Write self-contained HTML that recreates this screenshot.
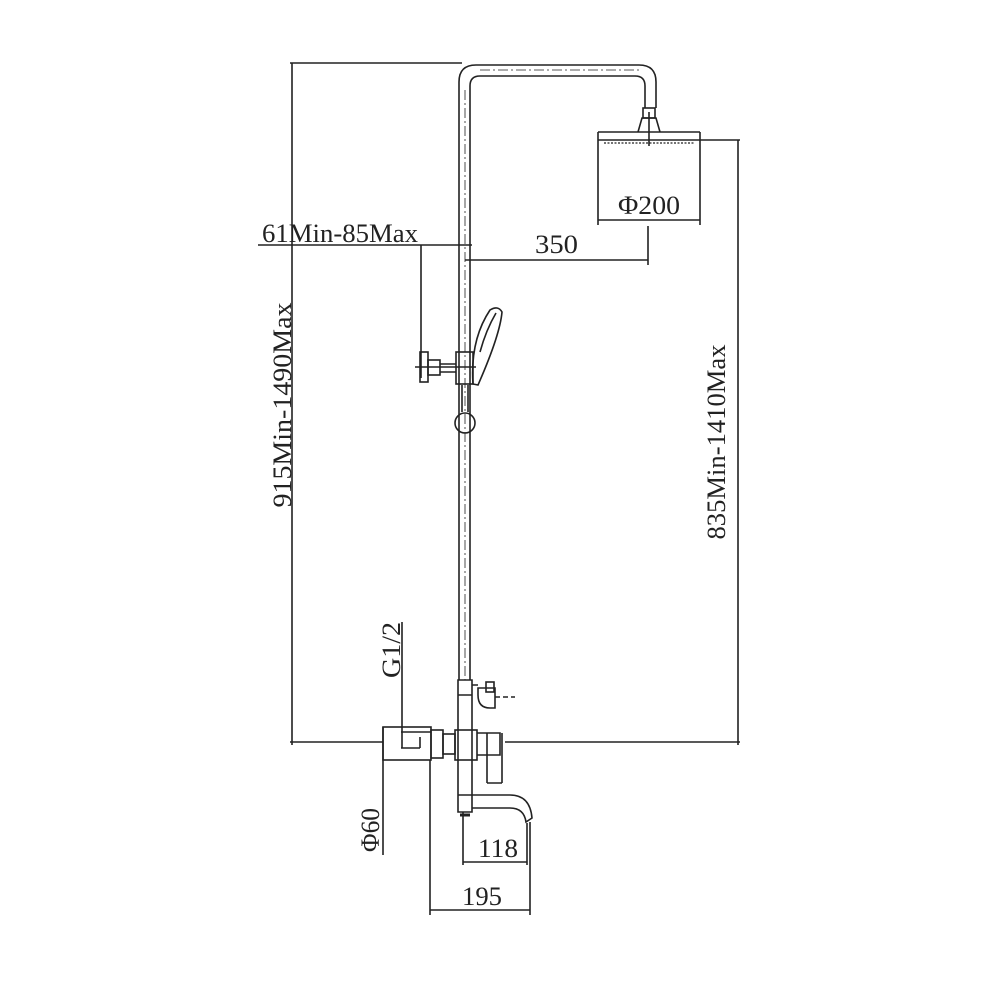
<!DOCTYPE html>
<html><head><style>body{margin:0;background:#fff}svg{display:block}</style></head><body>
<svg width="1000" height="1000" viewBox="0 0 1000 1000" xmlns="http://www.w3.org/2000/svg">
<g fill="none" stroke="#222" stroke-width="1.6">
<path d="M459 680 V82 Q459 65 476 65 H639 Q656 65 656 82 V108"/>
<path d="M470 680 V86 Q470 76 480 76 H635 Q645 76 645 86 V108"/>
<path d="M465 90 V680 M480 70 H640" stroke-width="0.8" stroke-dasharray="10 3 2 3"/>
<rect x="643" y="108" width="12" height="10"/>
<path d="M638 132 L642 118 H656 L660 132"/>
<path d="M598 132 H700 M598 132 V225 M700 132 V225 M598 140 H700"/>
<path d="M604 143 H695" stroke-dasharray="2 1.5" stroke-width="1.2"/>
<path d="M649 112 V146"/>
<path d="M290 63 H462"/>
<path d="M292 63 V745"/>
<path d="M700 140 H740 M738 140 V745"/>
<path d="M598 220 H700"/>
<path d="M648 226 V265 M465 260 H648"/>
<path d="M258 245 H472 M421 245 V378"/>
<rect x="420" y="352" width="8" height="30"/>
<rect x="428" y="360" width="12" height="15"/>
<path d="M440 364 H456 M440 372 H456 M415 367 H476"/>
<rect x="456" y="352" width="17" height="32"/>
<path d="M473 384 Q470 340 490 310 Q498 305 502 312 Q500 335 478 385 Z"/>
<path d="M480 352 Q486 330 496 313"/>
<path d="M462 385 V412 M468 385 V412"/>
<circle cx="465" cy="423" r="10"/>
<path d="M402 622 V748"/>
<rect x="383" y="727" width="48" height="33"/>
<rect x="431" y="730" width="12" height="28"/>
<path d="M383 727 V855"/>
<path d="M401 732 H431 M401 748 H420 M420 737 V748"/>
<rect x="443" y="734" width="12" height="20"/>
<rect x="455" y="730" width="22" height="30"/>
<path d="M477 733 H500 V755 H477"/>
<path d="M487 733 V783 M502 733 V783 M487 783 H502"/>
<path d="M290 742 H383 M505 742 H740"/>
<path d="M458 680 V812 H472 V680 Z"/>
<path d="M458 695 H472 M458 795 H472"/>
<path d="M472 685 H478 M478 695 Q478 708 490 708 H495 V688 H478 Z"/>
<rect x="486" y="682" width="8" height="10"/>
<path d="M495 697 H515" stroke-dasharray="5 3"/>
<path d="M472 795 H510 Q530 795 532 818 L526 822 Q524 808 510 808 H472"/>
<path d="M460 815 H470" stroke-width="3"/>
<path d="M463 812 V865 M527 823 V865 M463 862 H527"/>
<path d="M430 760 V915 M530 822 V915 M430 910 H530"/>
</g>
<g font-family="Liberation Serif, serif" font-size="26" fill="#222" lengthAdjust="spacingAndGlyphs">
<text x="262" y="242" textLength="156" lengthAdjust="spacingAndGlyphs">61Min-85Max</text>
<text x="535" y="253" textLength="43" lengthAdjust="spacingAndGlyphs">350</text>
<text x="618" y="214" textLength="62" lengthAdjust="spacingAndGlyphs">Φ200</text>
<text x="478" y="857" textLength="40" lengthAdjust="spacingAndGlyphs">118</text>
<text x="462" y="905" textLength="40" lengthAdjust="spacingAndGlyphs">195</text>
<text transform="translate(291,405) rotate(-90)" text-anchor="middle" textLength="205" lengthAdjust="spacingAndGlyphs">915Min-1490Max</text>
<text transform="translate(725,442) rotate(-90)" text-anchor="middle" textLength="195" lengthAdjust="spacingAndGlyphs">835Min-1410Max</text>
<text transform="translate(400,650) rotate(-90)" text-anchor="middle" textLength="56" lengthAdjust="spacingAndGlyphs">G1/2</text>
<text transform="translate(379,830) rotate(-90)" text-anchor="middle" textLength="44" lengthAdjust="spacingAndGlyphs">Φ60</text>
</g>
</svg>
</body></html>
